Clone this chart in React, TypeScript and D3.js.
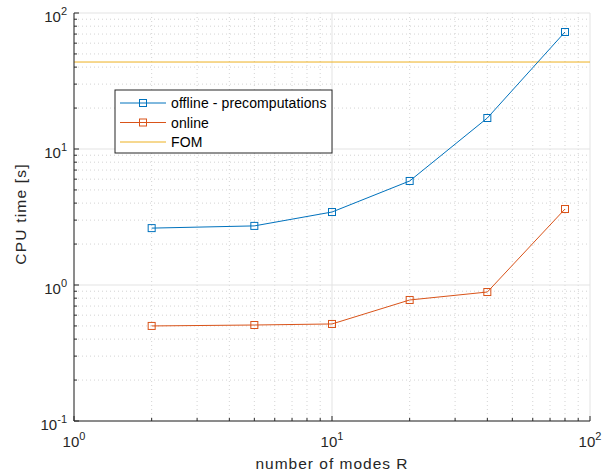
import React from "react";
import * as d3 from "d3";

const modes = [2, 5, 10, 20, 40, 80];
const offline = [2.62, 2.72, 3.44, 5.82, 16.9, 72.5];
const online = [0.5, 0.508, 0.517, 0.776, 0.888, 3.62];
const fom = 43.6;
const xTickExps = [0, 1, 2];
const yTickExps = [-1, 0, 1, 2];
const legendLabels = ["offline - precomputations", "online", "FOM"];
const colors = ["#0072BD", "#D95319", "#EDB120"];

const W = 605, H = 476;
const L = 74, R = 590, T = 13, B = 421;

export default function App() {
  const x = d3.scaleLog().domain([1, 100]).range([L, R]);
  const y = d3.scaleLog().domain([0.1, 100]).range([B, T]);
  const line = d3.line<[number, number]>().x(d => x(d[0])).y(d => y(d[1]));
  const minorX: number[] = [];
  for (let e = 0; e < 2; e++) for (let m = 2; m <= 9; m++) minorX.push(m * Math.pow(10, e));
  const minorY: number[] = [];
  for (let e = -1; e < 2; e++) for (let m = 2; m <= 9; m++) minorY.push(m * Math.pow(10, e));
  const series = [offline, online];
  const font = "'Liberation Sans', Arial, sans-serif";
  const sq = 7;
  return (
    <svg width={W} height={H} style={{ position: "absolute", left: 0, top: 0, background: "#fff" }} fontFamily={font}>
      <rect x={0} y={0} width={W} height={H} fill="#fff" />
      {/* minor grid */}
      {minorX.map(v => (
        <line key={"mx" + v} x1={x(v)} x2={x(v)} y1={T} y2={B} stroke="#c8c8c8" strokeWidth={0.8} strokeDasharray="1,3" />
      ))}
      {minorY.map(v => (
        <line key={"my" + v} x1={L} x2={R} y1={y(v)} y2={y(v)} stroke="#c8c8c8" strokeWidth={0.8} strokeDasharray="1,3" />
      ))}
      {/* major grid */}
      {xTickExps.map(e => (
        <line key={"gx" + e} x1={x(Math.pow(10, e))} x2={x(Math.pow(10, e))} y1={T} y2={B} stroke="#e3e3e3" strokeWidth={1} />
      ))}
      {yTickExps.map(e => (
        <line key={"gy" + e} x1={L} x2={R} y1={y(Math.pow(10, e))} y2={y(Math.pow(10, e))} stroke="#e3e3e3" strokeWidth={1} />
      ))}
      {/* FOM */}
      <line x1={L} x2={R} y1={y(fom)} y2={y(fom)} stroke={colors[2]} strokeWidth={1} />
      {/* series */}
      {series.map((s, i) => {
        const pts = modes.map((m, j) => [m, s[j]] as [number, number]);
        return (
          <g key={"s" + i}>
            <path d={line(pts) || ""} fill="none" stroke={colors[i]} strokeWidth={1} />
            {pts.map((p, j) => (
              <rect key={j} x={x(p[0]) - sq / 2} y={y(p[1]) - sq / 2} width={sq} height={sq} fill="none" stroke={colors[i]} strokeWidth={1} />
            ))}
          </g>
        );
      })}
      {/* axes */}
      <line x1={L} x2={L} y1={T} y2={B} stroke="#262626" strokeWidth={1} />
      <line x1={L} x2={R} y1={B} y2={B} stroke="#262626" strokeWidth={1} />
      {/* ticks */}
      {xTickExps.map(e => (
        <line key={"tx" + e} x1={x(Math.pow(10, e))} x2={x(Math.pow(10, e))} y1={B} y2={B - 5} stroke="#262626" />
      ))}
      {minorX.map(v => (
        <line key={"tmx" + v} x1={x(v)} x2={x(v)} y1={B} y2={B - 3} stroke="#262626" />
      ))}
      {yTickExps.map(e => (
        <line key={"ty" + e} x1={L} x2={L + 5} y1={y(Math.pow(10, e))} y2={y(Math.pow(10, e))} stroke="#262626" />
      ))}
      {minorY.map(v => (
        <line key={"tmy" + v} x1={L} x2={L + 3} y1={y(v)} y2={y(v)} stroke="#262626" />
      ))}
      {/* tick labels */}
      {xTickExps.map(e => (
        <text key={"lx" + e} x={x(Math.pow(10, e))} y={447} textAnchor="middle" fontSize={15} fill="#262626">
          10<tspan dy={-7} fontSize={11}>{e}</tspan>
        </text>
      ))}
      {yTickExps.map(e => (
        <text key={"ly" + e} x={L - 7} y={y(Math.pow(10, e)) + 9} textAnchor="end" fontSize={15} fill="#262626">
          10<tspan dy={-7} fontSize={11}>{e}</tspan>
        </text>
      ))}
      {/* axis labels */}
      <text x={(L + R) / 2} y={469} textAnchor="middle" fontSize={15.5} letterSpacing={1} fill="#262626">number of modes R</text>
      <text transform={`translate(26,214) rotate(-90)`} textAnchor="middle" fontSize={15.5} letterSpacing={1.2} fill="#262626">CPU time [s]</text>
      {/* legend */}
      <rect x={115} y={90} width={217} height={63} fill="#fff" stroke="#262626" strokeWidth={1} />
      {legendLabels.map((lab, i) => {
        const ly = 103 + i * 19.5;
        return (
          <g key={"lg" + i}>
            <line x1={120} x2={166} y1={ly} y2={ly} stroke={colors[i]} strokeWidth={1} />
            {i < 2 && <rect x={143 - sq / 2} y={ly - sq / 2} width={sq} height={sq} fill="none" stroke={colors[i]} strokeWidth={1} />}
            <text x={171} y={ly + 5} fontSize={14} letterSpacing={0.1} fill="#000">{lab}</text>
          </g>
        );
      })}
    </svg>
  );
}
